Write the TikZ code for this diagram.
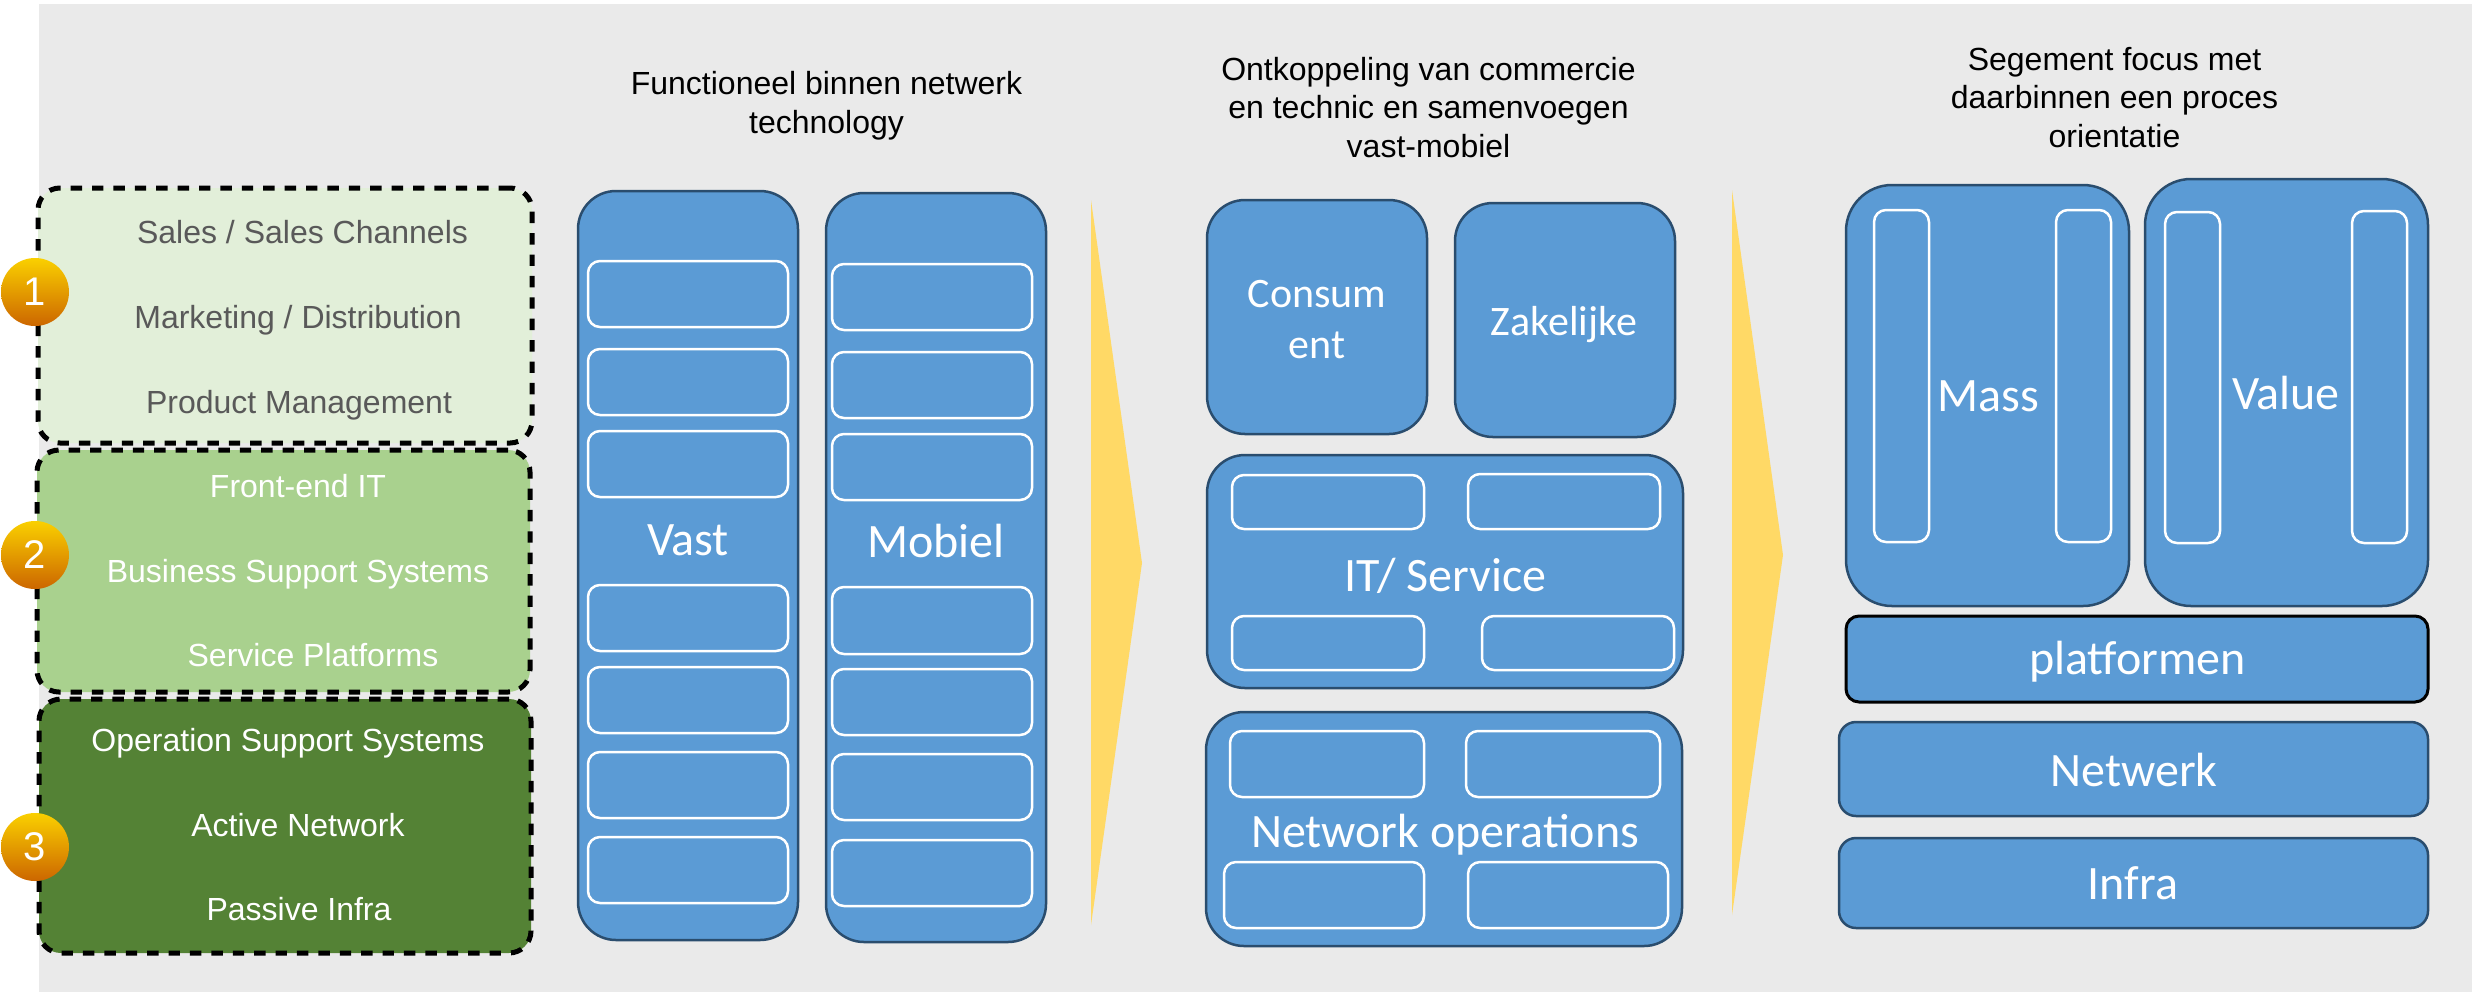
\documentclass[tikz,border=0pt]{standalone}
\usepackage{fontspec}
\setmainfont{Liberation Sans}
\newfontfamily\calib{Carlito}
\definecolor{bgc}{HTML}{EAEAEA}
\definecolor{blu}{HTML}{5B9BD5}
\definecolor{blud}{HTML}{2A4D6E}
\definecolor{gA}{HTML}{E2EFD9}
\definecolor{gB}{HTML}{A9D18E}
\definecolor{gC}{HTML}{548235}
\definecolor{txtg}{HTML}{595959}
\definecolor{arrowy}{HTML}{FFD966}
\definecolor{gold}{HTML}{FAD000}
\definecolor{ochre}{HTML}{CC6600}
\tikzset{
  x=0.5pt,y=-0.5pt,
  boxbase/.style={rectangle,inner sep=0pt,outer sep=0pt},
  outer/.style={boxbase,fill=blu,draw=blud,line width=1.25pt,rounded corners=19pt},
  outerM/.style={outer,rounded corners=23pt},
  bar/.style={outer,rounded corners=8.5pt},
  barblack/.style={outer,rounded corners=6.5pt,draw=black,line width=1.5pt},
  inner/.style={boxbase,fill=none,draw=white,line width=1.25pt,rounded corners=6pt},
  group/.style={boxbase,draw=black,line width=2.5pt,dash pattern=on 5.7pt off 5pt,rounded corners=11pt},
  badge/.style={circle,inner sep=0pt,minimum size=34pt,top color=gold,bottom color=ochre,text=white,font=\fontsize{20}{24}\selectfont},
  ltext/.style={anchor=base,inner sep=0pt,font=\fontsize{16}{19}\selectfont},
  title/.style={anchor=base,inner sep=0pt,align=center,text=black,font=\fontsize{16}{19.25}\selectfont},
  blab/.style={anchor=base,inner sep=0pt,align=center,text=white,font=\calib\fontsize{24}{26}\selectfont},
  blabs/.style={blab,font=\calib\fontsize{21}{25.5}\selectfont},
}
\newcommand\bx[6]{\node[#2,minimum width={(#5-#3)*0.5pt},minimum height={(#6-#4)*0.5pt}] (#1) at ({(#3+#5)/2},{(#4+#6)/2}) {};}
\newcommand\lb[5]{\node[#2] (#1) at (#3,#4) {#5};}
\begin{document}
\begin{tikzpicture}
\useasboundingbox (0,0) rectangle (2478,992);
\fill[bgc] (39,4) rectangle (2472,992);
% group boxes
\bx{gone}{group,fill=gA}{38}{188}{532}{443}
\bx{gtwo}{group,fill=gB}{37}{450}{530}{692}
\bx{gthree}{group,fill=gC}{39}{699}{531}{953}
\lb{t1}{ltext,text=txtg}{302.5}{243}{Sales / Sales Channels}
\lb{t2}{ltext,text=txtg}{298}{328}{Marketing / Distribution}
\lb{t3}{ltext,text=txtg}{299}{413}{Product Management}
\lb{t4}{ltext,text=white}{298}{497}{Front-end IT}
\lb{t5}{ltext,text=white}{298}{582}{Business Support Systems}
\lb{t6}{ltext,text=white}{313}{666}{Service Platforms}
\lb{t7}{ltext,text=white}{288}{751.5}{Operation Support Systems}
\lb{t8}{ltext,text=white}{298}{836.5}{Active Network}
\lb{t9}{ltext,text=white}{299}{920.5}{Passive Infra}
\node[badge] (bone) at (35,292) {1};
\node[badge] (btwo) at (35,555) {2};
\node[badge] (bthree) at (35,847) {3};
% titles
\lb{tta}{title}{826.5}{133}{Functioneel binnen netwerk\\technology}
\lb{ttb}{title}{1428.5}{157}{Ontkoppeling van commercie\\en technic en samenvoegen\\vast-mobiel}
\lb{ttc}{title}{2114.5}{147}{Segement focus met\\daarbinnen een proces\\orientatie}
% column 1
\bx{vast}{outer}{578}{191}{798}{940}
\bx{va}{inner}{588}{261}{788}{327}
\bx{vb}{inner}{588}{349}{788}{415}
\bx{vc}{inner}{588}{431}{788}{497}
\bx{vd}{inner}{588}{585}{788}{651}
\bx{ve}{inner}{588}{667}{788}{733}
\bx{vf}{inner}{588}{752}{788}{818}
\bx{vg}{inner}{588}{837}{788}{903}
\lb{vlab}{blab}{688}{555}{Vast}
\bx{mob}{outer}{826}{193}{1046}{942}
\bx{ma}{inner}{832}{264}{1032}{330}
\bx{mb}{inner}{832}{352}{1032}{418}
\bx{mc}{inner}{832}{434}{1032}{500}
\bx{md}{inner}{832}{587}{1032}{654}
\bx{me}{inner}{832}{669}{1032}{735}
\bx{mf}{inner}{832}{754}{1032}{820}
\bx{mg}{inner}{832}{840}{1032}{906}
\lb{mlab}{blab}{936}{557}{Mobiel}
\fill[arrowy] (1091,200) -- (1142,563) -- (1091,925) -- cycle;
% column 2
\bx{cons}{outer}{1207}{200}{1427}{434}
\lb{clab}{blabs}{1317}{358}{Consum\\ent}
\bx{zak}{outer}{1455}{203}{1675}{437}
\lb{zlab}{blabs}{1564}{335}{Zakelijke}
\bx{its}{outer}{1207}{455}{1683}{688}
\bx{ia}{inner}{1232}{475}{1424}{529}
\bx{ib}{inner}{1468}{474}{1660}{529}
\bx{ic}{inner}{1232}{616}{1424}{670}
\bx{id}{inner}{1482}{616}{1674}{670}
\lb{ilab}{blab}{1445.5}{591}{IT/ Service}
\bx{net}{outer}{1206}{712}{1682}{946}
\bx{na}{inner}{1230}{731}{1424}{797}
\bx{nb}{inner}{1466}{731}{1660}{797}
\bx{nc}{inner}{1224}{862}{1424}{928}
\bx{nd}{inner}{1468}{862}{1668}{928}
\lb{nlab}{blab}{1445}{847}{Network operations}
\fill[arrowy] (1732,190) -- (1783,555) -- (1732,915) -- cycle;
% column 3
\bx{mass}{outerM}{1846}{185}{2129}{606}
\bx{sa}{inner}{1874}{210}{1929}{542}
\bx{sb}{inner}{2056}{210}{2111}{542}
\lb{slab}{blab}{1988}{411}{Mass}
\bx{val}{outerM}{2145}{179}{2428}{606}
\bx{wa}{inner}{2165}{212}{2220}{543}
\bx{wb}{inner}{2352}{211}{2407}{543}
\lb{wlab}{blab}{2286}{409}{Value}
\bx{plat}{barblack}{1846}{616}{2428}{702}
\lb{plab}{blab}{2137.5}{674}{platformen}
\bx{netw}{bar}{1839}{722}{2428}{816}
\lb{nwlab}{blab}{2134}{786}{Netwerk}
\bx{infr}{bar}{1839}{838}{2428}{928}
\lb{inlab}{blab}{2133}{899}{Infra}
\end{tikzpicture}
\end{document}
